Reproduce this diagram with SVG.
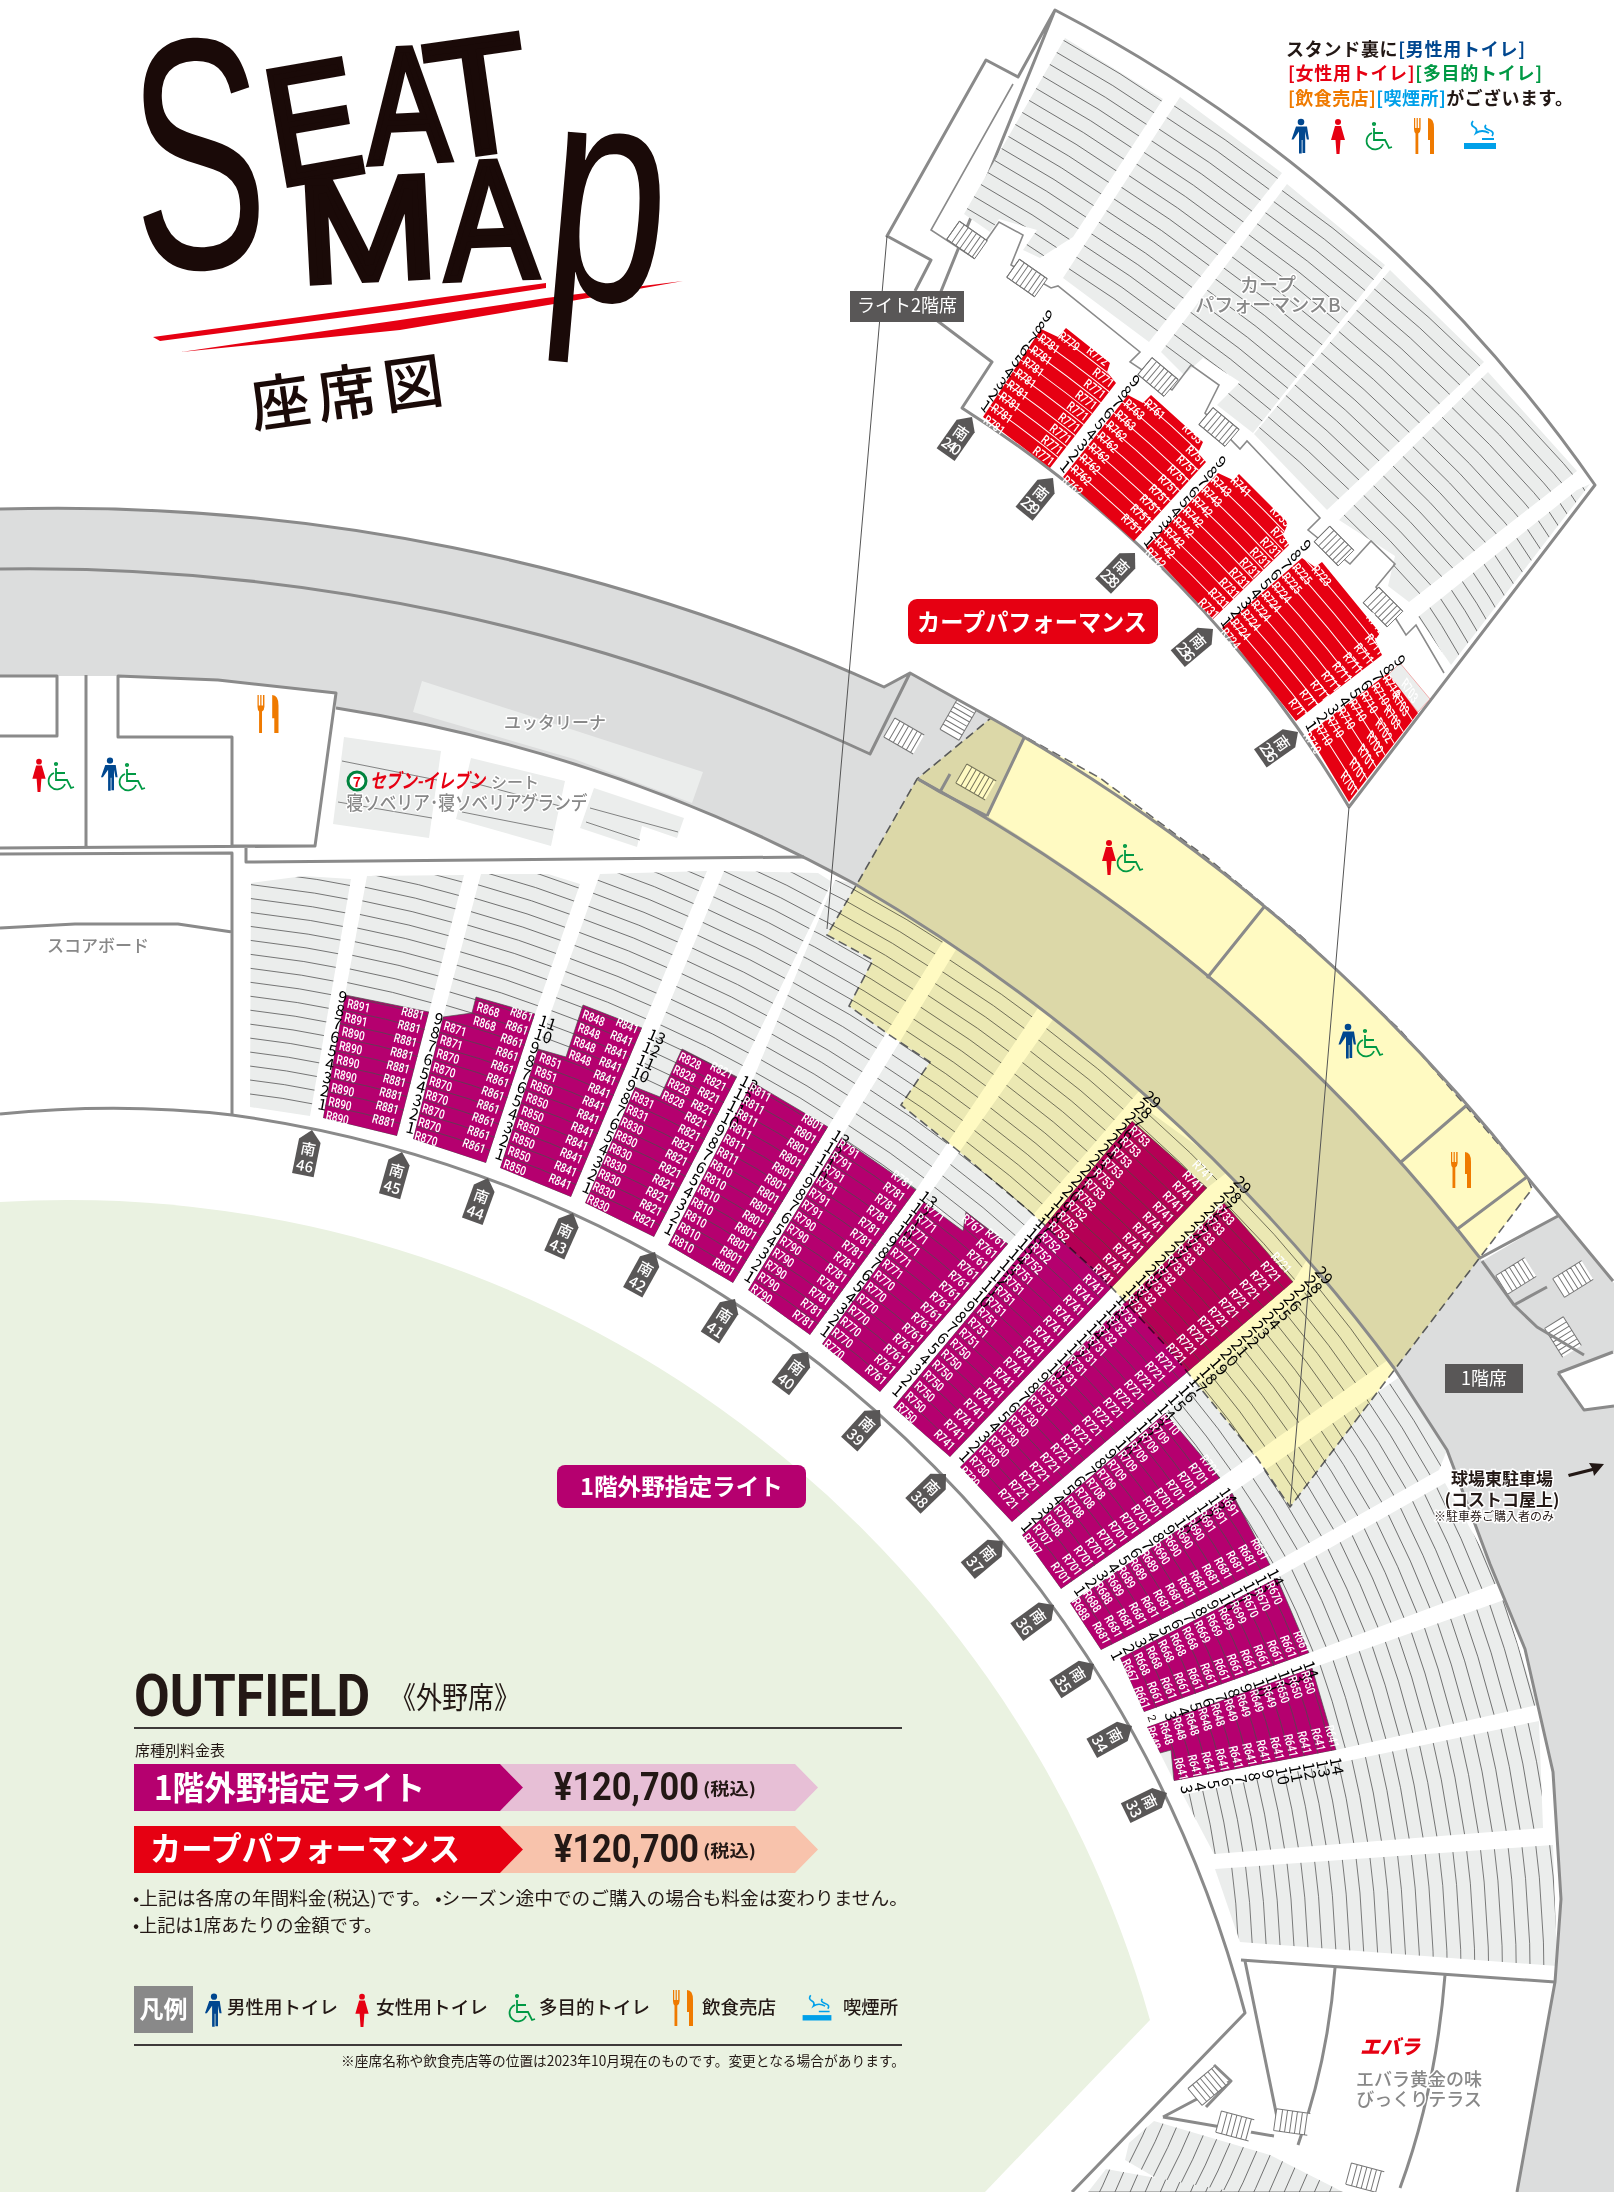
<svg xmlns="http://www.w3.org/2000/svg" width="1614" height="2192" viewBox="0 0 1614 2192">
<style>
text{font-family:"Noto Sans CJK JP","Noto Sans",sans-serif}
.w{fill:none;stroke:#8a8a8a;stroke-width:3;stroke-linejoin:round}
.t{fill:none;stroke:#8a8a8a;stroke-width:1.6}
.rw{fill:none;stroke:#4d4d4d;stroke-width:.7}
.rr{fill:none;stroke:#fff;stroke-width:1}
.m{fill:#b5006f}.r{fill:#e60012}
.N text{font:400 11.5px Roboto,sans-serif;fill:#231815;text-anchor:middle;dominant-baseline:central}
.L text,.E text{font:500 12.5px Roboto,sans-serif;fill:#fff;dominant-baseline:central}
.E text{text-anchor:end}
.tg text{font:500 15px "Noto Sans CJK JP",sans-serif;fill:#fff;text-anchor:middle}
.h{fill:#888;font-weight:500;paint-order:stroke;stroke:#fff;stroke-width:3;stroke-linejoin:round;text-anchor:middle}
.k{fill:#231815}
.ti{font-family:"Liberation Sans",sans-serif;font-weight:400;fill:#1a0a08;text-anchor:middle;stroke:#1a0a08}
</style>
<defs>
<rect id="bg" width="1614" height="2192" fill="#ebedec"/>
<path id="r" d="M-260 11.15q260-50 520 0m-520-13.85q260-50 520 0m-520-13.85q260-50 520 0m-520-13.85q260-50 520 0m-520-13.85q260-50 520 0m-520-13.85q260-50 520 0m-520-13.85q260-50 520 0m-520-13.85q260-50 520 0m-520-13.85q260-50 520 0m-520-13.85q260-50 520 0m-520-13.85q260-50 520 0m-520-13.85q260-50 520 0m-520-13.85q260-50 520 0m-520-13.85q260-50 520 0m-520-13.85q260-50 520 0m-520-13.85q260-50 520 0m-520-13.85q260-50 520 0m-520-13.85q260-50 520 0m-520-13.85q260-50 520 0m-520-13.85q260-50 520 0m-520-13.85q260-50 520 0m-520-13.85q260-50 520 0m-520-13.85q260-50 520 0m-520-13.85q260-50 520 0m-520-13.85q260-50 520 0m-520-13.85q260-50 520 0m-520-13.85q260-50 520 0m-520-13.85q260-50 520 0m-520-13.85q260-50 520 0m-520-13.85q260-50 520 0m-520-13.85q260-50 520 0m-520-13.85q260-50 520 0m-520-13.85q260-50 520 0m-520-13.85q260-50 520 0m-520-13.85q260-50 520 0m-520-13.85q260-50 520 0m-520-13.85q260-50 520 0m-520-13.85q260-50 520 0m-520-13.85q260-50 520 0m-520-13.85q260-50 520 0m-520-13.85q260-50 520 0m-520-13.85q260-50 520 0m-520-13.85q260-50 520 0m-520-13.85q260-50 520 0"/>
<g id="st"><rect x="-17" y="-11" width="34" height="22" fill="#fff"/><path d="M-17-11v22M-11-11v22M-6-11v22M-1-11v22M4-11v22M9-11v22M14-11v22M-17-11h34M-17 11h34" fill="none" stroke="#777" stroke-width="1"/></g>
<g id="man" fill="#00478f"><circle cy="-14" r="3.3"/><path d="M-5.5-9.5h11l2 13h-2.2l-1.6-8v21.5h-2.7V4h-.8v13.5h-2.7V-4.5L-8 3.5h-2z" transform="translate(.5 0)"/></g>
<g id="wom" fill="#e60012"><circle cy="-14" r="3"/><path d="M-3-10H3L7 4H2.5L1.5 18h-3L-2.5 4H-7z"/></g>
<g id="wc" fill="none" stroke="#009944" stroke-width="1.8"><circle cx="-6" cy="-14" r="1.2"/><path d="M-6-10V2H5l4 8 3-1M-6-5H3M-8-5a8.5 8.5 0 1 0 11 11"/></g>
<g id="food" fill="#ef7a00"><path d="M-10-18h1.2v10h1.4v-10h1.2v10h1.4v-10H-3.400v11q0 3-2.300 4.500V18H-8.500V-2.500q-1.500-1.500-1.500-4.500z"/><path d="M4-18q6 0 6 10V18H6V4H4z"/></g>
<g id="sm"><rect x="-16" y="9" width="32" height="6" fill="#00a0e9"/><path d="M-7-13q-3 4 1 6t2 6q6-4 13 0M6-9q-3 3 3 5t3 6M2 5H14" fill="none" stroke="#00a0e9" stroke-width="1.8"/></g>
<polygon id="tp" points="0,0 11,11 11,46 -11,46 -11,11" fill="#595757"/>
<g id="a"><text>1</text><text y="-14">2</text></g>
<g id="b"><text y="-28">3</text><text y="-42">4</text><text y="-56">5</text><text y="-70">6</text><text y="-84">7</text><text y="-98">8</text><text y="-112">9</text></g>
<g id="c"><text y="-126">10</text><text y="-140">11</text></g>
<g id="d"><text y="-154">12</text><text y="-168">13</text></g>
<g id="e"><text y="-182">14</text></g>
<g id="f"><text y="-196">15</text><text y="-210">16</text><text y="-224">17</text><text y="-238">18</text><text y="-252">19</text><text y="-266">20</text><text y="-280">21</text><text y="-294">22</text><text y="-308">23</text><text y="-322">24</text><text y="-336">25</text><text y="-350">26</text><text y="-364">27</text><text y="-378">28</text><text y="-392">29</text></g>
<g id="n9"><use href="#a"/><use href="#b"/></g>
<g id="n11"><use href="#n9"/><use href="#c"/></g>
<g id="n13"><use href="#n11"/><use href="#d"/></g>
<g id="n14"><use href="#n13"/><use href="#e"/></g>
<g id="n29"><use href="#n14"/><use href="#f"/></g>
<clipPath id="c0"><polygon points="251,883 304,876 351,879 310,1116 250,1107"/></clipPath>
<clipPath id="cA"><polygon points="367,876 464,875 429,1012 397,1136 323,1118 345,995"/></clipPath>
<clipPath id="cB"><polygon points="481,874 548,874 580,884 535,1014 486,1163 413,1139 443,1017"/></clipPath>
<clipPath id="cC"><polygon points="600,874 707,871 642,1028 571,1197 500,1168 538,1049"/></clipPath>
<clipPath id="cD"><polygon points="724,871 818,873 832,882 737,1077 654,1237 585,1203 635,1087"/></clipPath>
<clipPath id="cE"><polygon points="668,1245 752,1082 835,880 890,890 950,930 828,1127 733,1283"/></clipPath>
<clipPath id="cF"><polygon points="748,1290 841,1138 957,948 1000,960 1040,1005 916,1190 810,1335"/></clipPath>
<clipPath id="cG"><polygon points="822,1344 924,1202 1054,1018 1140,1090 1008,1244 880,1392"/></clipPath>
<clipPath id="cH"><polygon points="893,1407 1132,1121 1143,1107 1230,1170 1207,1188 950,1457"/></clipPath>
<clipPath id="cI"><polygon points="960,1467 1224,1203 1240,1183 1310,1255 1293,1282 1012,1522"/></clipPath>
<clipPath id="cJ"><polygon points="1022,1535 1165,1413 1325,1275 1395,1355 1220,1478 1061,1589"/></clipPath>
<clipPath id="cK"><polygon points="1070,1603 1232,1493 1398,1378 1447,1450 1439,1470 1270,1565 1101,1650"/></clipPath>
<clipPath id="cL"><polygon points="1120,1658 1277,1578 1445,1483 1500,1582 1309,1653 1144,1712"/></clipPath>
<clipPath id="cM"><polygon points="1147,1727 1312,1668 1504,1600 1537,1705 1336,1750 1174,1781"/></clipPath>
<clipPath id="cN"><polygon points="1183,1795 1539,1721 1543,1828 1214,1854"/></clipPath>
<clipPath id="cO"><polygon points="1215,1869 1553,1845 1557,1966 1240,1942"/></clipPath>
<clipPath id="cP"><polygon points="1154,2121 1270,2155 1343,2192 1180,2192 1125,2160 1129,2143"/></clipPath>
<clipPath id="cQ"><polygon points="1106,2169 1235,2192 1088,2192"/></clipPath>
<clipPath id="a2"><polygon points="1065,38 1163,99 1073,237 1040,258 1023,250 1037,230 999,219 990,232 964,214"/></clipPath>
<clipPath id="b2"><polygon points="1180,97 1282,173 1149,342 1063,278"/></clipPath>
<clipPath id="c2"><polygon points="1287,184 1385,265 1253,433 1217,405 1240,382 1203,358 1184,375 1161,352"/></clipPath>
<clipPath id="d2"><polygon points="1390,270 1484,362 1327,510 1254,434"/></clipPath>
<clipPath id="e2"><polygon points="1488,372 1577,471 1409,602 1388,586 1395,556 1339,520"/></clipPath>
<clipPath id="f2"><polygon points="1577,490 1590,484 1451,665 1418,617"/></clipPath>
<clipPath id="r1"><polygon points="1041,329 1058,337 1066,328 1110,363 1107,372 1116,383 1050,468 983,417"/></clipPath>
<clipPath id="r2"><polygon points="1128,395 1143,403 1151,395 1203,442 1198,453 1206,462 1134,541 1063,477"/></clipPath>
<clipPath id="r3"><polygon points="1218,473 1233,480 1239,474 1288,523 1283,535 1289,545 1213,619 1146,548"/></clipPath>
<clipPath id="r4"><polygon points="1302,558 1315,567 1322,562 1380,633 1375,640 1382,655 1296,721 1222,628"/></clipPath>
<clipPath id="r5"><polygon points="1388,673 1418,713 1349,802 1308,734"/></clipPath>
</defs>

<rect width="1614" height="2192" fill="#fff"/>
<path id="field" d="M0 1202A1124 1124 0 0 1 1150 2020L985 2192H0Z" fill="#eaf2e1"/>

<g id="upper-stand" class="rw">
<path d="M1055 10L1018 77 986 60 887 236 931 260 915 291M931 316L992 362 962 408A1200 1200 0 0 1 1349 807L1595 485A1500 1500 0 0 0 1055 10Z" class="w"/>
<g clip-path="url(#a2)"><use href="#bg"/><use href="#r" transform="translate(1010 250) rotate(32)"/></g>
<g clip-path="url(#b2)"><use href="#bg"/><use href="#r" transform="translate(1106 310) rotate(35)"/></g>
<g clip-path="url(#c2)"><use href="#bg"/><use href="#r" transform="translate(1205 392) rotate(38)"/></g>
<g clip-path="url(#d2)"><use href="#bg"/><use href="#r" transform="translate(1290 472) rotate(42)"/></g>
<g clip-path="url(#e2)"><use href="#bg"/><use href="#r" transform="translate(1370 560) rotate(46)"/></g>
<g clip-path="url(#f2)"><use href="#bg"/><use href="#r" transform="translate(1418 640) rotate(58)"/></g>
<path d="M1013 84L931 230 974 258 999 222 1023 235 1011 265 1051 288 1058 286 1140 352 1130 362 1172 390 1191 365 1219 385 1205 413 1240 449 1247 441 1320 518 1308 530 1350 564 1371 541 1395 564 1376 587 1406 635 1416 625 1444 673" class="t"/>
<use href="#st" transform="translate(967 240) rotate(35)"/><use href="#st" transform="translate(1027 278) rotate(35)"/><use href="#st" transform="translate(1158 377) rotate(40)"/><use href="#st" transform="translate(1219 427) rotate(40)"/><use href="#st" transform="translate(1334 546) rotate(45)"/><use href="#st" transform="translate(1383 607) rotate(45)"/>
<polygon points="1400,663 1430,699 1418,712 1388,675" fill="#ebedec" stroke="#e66" stroke-width=".5"/>
<g id="sec-r1" clip-path="url(#r1)"><rect class="r" width="1614" height="2192" style="stroke:none"/><use href="#r" class="rr" transform="translate(1016 442) rotate(37)"/></g>
<g id="sec-r2" clip-path="url(#r2)"><rect class="r" width="1614" height="2192" style="stroke:none"/><use href="#r" class="rr" transform="translate(1098 509) rotate(42)"/></g>
<g id="sec-r3" clip-path="url(#r3)"><rect class="r" width="1614" height="2192" style="stroke:none"/><use href="#r" class="rr" transform="translate(1180 583) rotate(45)"/></g>
<g id="sec-r4" clip-path="url(#r4)"><rect class="r" width="1614" height="2192" style="stroke:none"/><use href="#r" class="rr" transform="translate(1259 675) rotate(50)"/></g>
<g id="sec-r5" clip-path="url(#r5)"><rect class="r" width="1614" height="2192" style="stroke:none"/><use href="#r" class="rr" transform="translate(1328 768) rotate(58)"/></g>
</g>

<g id="lower-stand" class="rw">
<g clip-path="url(#c0)"><use href="#bg"/><use href="#r" transform="translate(280 1112) rotate(9)"/></g>
<g id="sec-A" clip-path="url(#cA)"><use href="#bg"/><polygon class="m" points="345,995 429,1012 397,1136 323,1118"/><use href="#r" transform="translate(360 1127) rotate(13.6)"/></g>
<g id="sec-B" clip-path="url(#cB)"><use href="#bg"/><polygon class="m" points="443,1017 472,1013 476,997 535,1014 486,1163 413,1139"/><use href="#r" transform="translate(450 1151) rotate(18)"/></g>
<g id="sec-C" clip-path="url(#cC)"><use href="#bg"/><polygon class="m" points="538,1049 566,1057 583,1005 642,1028 571,1197 500,1168"/><use href="#r" transform="translate(535 1182) rotate(22)"/></g>
<g id="sec-D" clip-path="url(#cD)"><use href="#bg"/><polygon class="m" points="635,1087 660,1097 682,1049 737,1077 654,1237 585,1203"/><use href="#r" transform="translate(620 1220) rotate(26.500)"/></g>
<g id="sec-E" clip-path="url(#cE)"><use href="#bg"/><polygon class="m" points="752,1082 828,1127 733,1283 668,1245"/><use href="#r" transform="translate(700 1264) rotate(31)"/></g>
<g id="sec-F" clip-path="url(#cF)"><use href="#bg"/><polygon class="m" points="841,1138 916,1190 810,1335 748,1290"/><use href="#r" transform="translate(779 1312) rotate(35)"/></g>
<g id="sec-G" clip-path="url(#cG)"><use href="#bg"/><polygon class="m" points="924,1202 963,1231 966,1212 1008,1244 880,1392 822,1344"/><use href="#r" transform="translate(851 1368) rotate(39.500)"/></g>
<g id="sec-H" clip-path="url(#cH)"><use href="#bg"/><polygon class="m" points="1132,1121 1207,1188 950,1457 893,1407"/><use href="#r" transform="translate(921 1432) rotate(44)"/></g>
<g id="sec-I" clip-path="url(#cI)"><use href="#bg"/><polygon class="m" points="1224,1203 1293,1282 1012,1522 960,1467"/><use href="#r" transform="translate(986 1494) rotate(48)"/></g>
<g id="sec-J" clip-path="url(#cJ)"><use href="#bg"/><polygon class="m" points="1165,1413 1220,1478 1061,1589 1022,1535"/><use href="#r" transform="translate(1041 1562) rotate(53)"/></g>
<g id="sec-K" clip-path="url(#cK)"><use href="#bg"/><polygon class="m" points="1232,1493 1270,1565 1101,1650 1070,1603"/><use href="#r" transform="translate(1085 1626) rotate(58)"/></g>
<g id="sec-L" clip-path="url(#cL)"><use href="#bg"/><polygon class="m" points="1277,1578 1309,1653 1144,1712 1120,1658"/><use href="#r" transform="translate(1132 1685) rotate(66)"/></g>
<g id="sec-M" clip-path="url(#cM)"><use href="#bg"/><polygon class="m" points="1312,1668 1336,1750 1174,1781 1171,1750 1160,1753 1147,1727"/><use href="#r" transform="translate(1160 1754) rotate(73)"/></g>
<g clip-path="url(#cN)"><use href="#bg"/><use href="#r" transform="translate(1183 1830) rotate(79)"/></g>
<g clip-path="url(#cO)"><use href="#bg"/><use href="#r" transform="translate(1222 1905) rotate(85)"/></g>
<g clip-path="url(#cP)"><use href="#bg"/><use href="#r" transform="translate(1130 2130) rotate(115)"/></g>
<g clip-path="url(#cQ)"><use href="#bg"/><use href="#r" transform="translate(1090 2180) rotate(115)"/></g>
</g>

<path id="concourse" d="M0 509A2000 2000 0 0 1 884 687L910 673 1025 738 987 816A1800 1800 0 0 1 1480 1258L1482 1261 1558 1216 1614 1283V1352L1558 1373 1584 1410 1614 1406V2192H1517L1555 1982 1561 1899 1553 1772 1525 1649 1490 1564 1447 1450 1394 1368A1800 1800 0 0 0 855 884A1600 1600 0 0 0 336 708L336 693 218 680 118 676H0Z" fill="#dcdddd"/>
<use href="#st" transform="translate(904 736) rotate(30)"/><use href="#st" transform="translate(958 720) rotate(-60)"/><use href="#st" transform="translate(976 782) rotate(30)"/><use href="#st" transform="translate(1516 1276) rotate(-32)"/><use href="#st" transform="translate(1573 1279) rotate(-32)"/><use href="#st" transform="translate(1563 1337) rotate(58)"/>

<polygon id="overlay" points="991,718 1100,778 1210,860 1300,935 1400,1030 1527,1177 1532,1189 1290,1507 1257,1458 1167,1347 1100,1275 1028,1210 956,1149 901,1105 930,1062 888,1034 849,1006 873,960 827,935 857,884 917,779" fill="#fffac2" stroke="#666" stroke-width="1.600" stroke-dasharray="9 5" style="mix-blend-mode:multiply"/>

<g id="plan-lines">
<path d="M0 509A2000 2000 0 0 1 884 687L910 673 991 718A1800 1800 0 0 1 1527 1177L1613 1281M0 569A2000 2000 0 0 1 870 754L910 673M918 779A1800 1800 0 0 1 1480 1258L1558 1216M336 708A1600 1600 0 0 1 855 884A1800 1800 0 0 1 1394 1368L1447 1450 1490 1564 1525 1649 1553 1772 1561 1899 1555 1982 1517 2192M0 1114Q120 1102 232 1115A1218 1218 0 0 1 1245 2013L1072 2192" class="w"/>
<path d="M1024 738L987 816M1264 907L1207 978M1467 1105L1401 1162M1527 1177L1456 1230M918 779L940 792 987 816M950 774L940 792M1514 1305L1482 1261M1514 1305L1547 1287M1514 1305L1537 1327 1584 1355M1558 1373L1613 1352M1558 1373L1584 1410 1614 1406" class="w" stroke-width="2"/>
<path d="M0 676H57V736H0M86 675V847M118 676L218 680 336 693 315 846H232V737H118ZM0 848L315 846M0 854L232 853V1115M246 848V862L804 857M0 928L75 924H178L232 932" class="w"/>
<path d="M1241 1960L1555 1982M1245 1961L1278 2122M1335 1968Q1328 2060 1298 2145M1445 1975Q1436 2090 1400 2188M1163 2117L1231 2081M1163 2117L1274 2136M1206 2107L1231 2081 1214 2065" class="w" stroke-width="2.500"/>
<use href="#st" transform="translate(1292 2122) rotate(8)"/><use href="#st" transform="translate(1208 2086) rotate(-40)"/><use href="#st" transform="translate(1235 2126) rotate(15)"/><use href="#st" transform="translate(1365 2178) rotate(15)"/>
</g>

<g id="connectors" fill="none" stroke="#555" stroke-width="1"><path d="M887 236L827 929"/><path d="M1349 807L1290 1507"/></g>

<g id="patches" fill="#ebedec">
<polygon points="422,681 703,772 692,803 574,759 413,712"/>
<polygon points="344,737 441,751 429,838 333,824"/><polygon points="471,758 565,781 551,846 456,819"/><polygon points="594,788 684,818 677,838 642,826 637,847 580,828"/>
<path d="M342 761L437 780M338 802L432 818M470 782L560 806M462 812L553 830M590 808L678 832M586 822L640 840" stroke="#555" stroke-width=".7" fill="none"/>
</g>

<g id="seat-numbers" class="N">
<use href="#n9" transform="matrix(.98 .2 -.18 .96 317 1109)"/>
<use href="#n9" transform="matrix(.96 .27 -.25 .97 405 1132)"/>
<use href="#n11" transform="matrix(.94 .34 -.31 .95 494 1158)"/>
<use href="#n13" transform="matrix(.91 .41 -.39 .91 581 1191)"/>
<use href="#n13" transform="matrix(.88 .48 -.45 .88 663 1232)"/>
<use href="#n13" transform="matrix(.84 .54 -.52 .84 743 1279)"/>
<use href="#n13" transform="matrix(.8 .6 -.59 .8 819 1333)"/>
<use href="#n29" transform="matrix(.75 .66 -.64 .75 891 1392)"/>
<use href="#n29" transform="matrix(.69 .72 -.7 .7 958 1457)"/>
<use href="#n29" transform="matrix(.64 .77 -.75 .65 1020 1527)"/>
<use href="#n14" transform="matrix(.57 .82 -.8 .54 1073 1590)"/>
<use href="#n14" transform="matrix(.47 .88 -.86 .45 1110 1654)"/>
<g transform="matrix(.34 .94 -.9 .33 1139 1723)"><text y="-14">2</text><use href="#b"/><use href="#c"/><use href="#d"/><use href="#e"/></g>
<g transform="matrix(.19 .98 -.97 .18 1153 1791)"><use href="#b"/><use href="#c"/><use href="#d"/><use href="#e"/></g>
<use href="#n9" transform="matrix(.64 .77 -.55 .8 980 407)"/>
<use href="#n9" transform="matrix(.62 .79 -.62 .76 1059 467)"/>
<use href="#n9" transform="matrix(.57 .82 -.64 .71 1143 542)"/>
<use href="#n9" transform="matrix(.5 .87 -.71 .68 1220 622)"/>
<use href="#n9" transform="matrix(.42 .91 -.79 .58 1305 725)"/>
</g>

<g id="seat-labels">
<g class="L" transform="matrix(.78 .19 -.19 1 326 1115)"><text>R890</text><text y="-14">R890</text><text y="-28">R890</text><text y="-42">R890</text><text y="-56">R890</text><text y="-70">R890</text><text y="-84">R890</text><text y="-98">R891</text><text y="-112">R891</text></g>
<g class="E" transform="matrix(.78 .19 -.26 .96 395 1124)"><text>R881</text><text y="-14">R881</text><text y="-28">R881</text><text y="-42">R881</text><text y="-56">R881</text><text y="-70">R881</text><text y="-84">R881</text><text y="-98">R881</text><text y="-112">R881</text></g>
<g class="L" transform="matrix(.76 .25 -.26 .98 415 1135)"><text>R870</text><text y="-14">R870</text><text y="-28">R870</text><text y="-42">R870</text><text y="-56">R870</text><text y="-70">R870</text><text y="-84">R870</text><text y="-98">R871</text><text y="-112">R871</text><text x="34" y="-126">R868</text><text x="34" y="-140">R868</text></g>
<g class="E" transform="matrix(.76 .25 -.34 .94 485 1150)"><text>R861</text><text y="-14">R861</text><text y="-28">R861</text><text y="-42">R861</text><text y="-56">R861</text><text y="-70">R861</text><text y="-84">R861</text><text y="-98">R861</text><text y="-112">R861</text><text y="-126">R861</text><text y="-140">R861</text></g>
<g class="L" transform="matrix(.74 .3 -.32 .95 504 1163)"><text>R850</text><text y="-14">R850</text><text y="-28">R850</text><text y="-42">R850</text><text y="-56">R850</text><text y="-70">R850</text><text y="-84">R850</text><text y="-98">R851</text><text y="-112">R851</text><text x="34" y="-126">R848</text><text x="34" y="-140">R848</text><text x="34" y="-154">R848</text><text x="34" y="-168">R848</text></g>
<g class="E" transform="matrix(.74 .3 -.4 .93 571 1186)"><text>R841</text><text y="-14">R841</text><text y="-28">R841</text><text y="-42">R841</text><text y="-56">R841</text><text y="-70">R841</text><text y="-84">R841</text><text y="-98">R841</text><text y="-112">R841</text><text y="-126">R841</text><text y="-140">R841</text><text y="-154">R841</text><text y="-168">R841</text></g>
<g class="L" transform="matrix(.72 .36 -.4 .92 588 1198)"><text>R830</text><text y="-14">R830</text><text y="-28">R830</text><text y="-42">R830</text><text y="-56">R830</text><text y="-70">R830</text><text y="-84">R830</text><text y="-98">R831</text><text y="-112">R831</text><text x="34" y="-126">R828</text><text x="34" y="-140">R828</text><text x="34" y="-154">R828</text><text x="34" y="-168">R828</text></g>
<g class="E" transform="matrix(.72 .36 -.46 .89 655 1225)"><text>R821</text><text y="-14">R821</text><text y="-28">R821</text><text y="-42">R821</text><text y="-56">R821</text><text y="-70">R821</text><text y="-84">R821</text><text y="-98">R821</text><text y="-112">R821</text><text y="-126">R821</text><text y="-140">R821</text><text y="-154">R821</text><text y="-168">R821</text></g>
<g class="L" transform="matrix(.69 .41 -.46 .9 673 1238)"><text>R810</text><text y="-14">R810</text><text y="-28">R810</text><text y="-42">R810</text><text y="-56">R810</text><text y="-70">R810</text><text y="-84">R810</text><text y="-98">R811</text><text y="-112">R811</text><text y="-126">R811</text><text y="-140">R811</text><text y="-154">R811</text><text y="-168">R811</text></g>
<g class="E" transform="matrix(.69 .41 -.53 .86 734 1273)"><text>R801</text><text y="-14">R801</text><text y="-28">R801</text><text y="-42">R801</text><text y="-56">R801</text><text y="-70">R801</text><text y="-84">R801</text><text y="-98">R801</text><text y="-112">R801</text><text y="-126">R801</text><text y="-140">R801</text><text y="-154">R801</text><text y="-168">R801</text></g>
<g class="L" transform="matrix(.66 .46 -.52 .86 752 1287)"><text>R790</text><text y="-14">R790</text><text y="-28">R790</text><text y="-42">R790</text><text y="-56">R790</text><text y="-70">R790</text><text y="-84">R790</text><text y="-98">R791</text><text y="-112">R791</text><text y="-126">R791</text><text y="-140">R791</text><text y="-154">R791</text><text y="-168">R791</text></g>
<g class="E" transform="matrix(.66 .46 -.59 .83 813 1326)"><text>R781</text><text y="-14">R781</text><text y="-28">R781</text><text y="-42">R781</text><text y="-56">R781</text><text y="-70">R781</text><text y="-84">R781</text><text y="-98">R781</text><text y="-112">R781</text><text y="-126">R781</text><text y="-140">R781</text><text y="-154">R781</text><text y="-168">R781</text></g>
<g class="L" transform="matrix(.62 .51 -.6 .82 825 1342)"><text>R770</text><text y="-14">R770</text><text y="-28">R770</text><text y="-42">R770</text><text y="-56">R770</text><text y="-70">R770</text><text y="-84">R770</text><text y="-98">R771</text><text y="-112">R771</text><text y="-126">R771</text><text y="-140">R771</text><text y="-154">R771</text><text y="-168">R771</text><text x="47" y="-182">R767</text></g>
<g class="E" transform="matrix(.62 .51 -.66 .75 885 1382)"><text>R761</text><text y="-14">R761</text><text y="-28">R761</text><text y="-42">R761</text><text y="-56">R761</text><text y="-70">R761</text><text y="-84">R761</text><text y="-98">R761</text><text y="-112">R761</text><text y="-126">R761</text><text y="-140">R761</text><text y="-154">R761</text><text y="-168">R761</text><text y="-182">R761</text></g>
<g class="L" transform="matrix(.58 .56 -.64 .76 898 1405)"><text>R750</text><text y="-14">R750</text><text y="-28">R750</text><text y="-42">R750</text><text y="-56">R750</text><text y="-70">R750</text><text y="-84">R750</text><text y="-98">R751</text><text y="-112">R751</text><text y="-126">R751</text><text y="-140">R751</text><text y="-154">R751</text><text y="-168">R751</text><text y="-182">R751</text><text y="-196">R752</text><text y="-210">R752</text><text y="-224">R752</text><text y="-238">R752</text><text y="-252">R752</text><text y="-266">R752</text><text y="-280">R752</text><text y="-294">R753</text><text y="-308">R753</text><text y="-322">R753</text><text y="-336">R753</text><text y="-350">R753</text><text y="-364">R753</text></g>
<g class="E" transform="matrix(.58 .56 -.71 .74 953 1448)"><text>R741</text><text y="-14">R741</text><text y="-28">R741</text><text y="-42">R741</text><text y="-56">R741</text><text y="-70">R741</text><text y="-84">R741</text><text y="-98">R741</text><text y="-112">R741</text><text y="-126">R741</text><text y="-140">R741</text><text y="-154">R741</text><text y="-168">R741</text><text y="-182">R741</text><text y="-196">R741</text><text y="-210">R741</text><text y="-224">R741</text><text y="-238">R741</text><text y="-252">R741</text><text y="-266">R741</text><text y="-280">R741</text><text y="-294">R741</text><text y="-308">R741</text><text y="-322">R741</text><text y="-336">R741</text><text y="-350">R741</text><text y="-364">R741</text></g>
<g class="L" transform="matrix(.54 .59 -.7 .72 962 1468)"><text>R730</text><text y="-14">R730</text><text y="-28">R730</text><text y="-42">R730</text><text y="-56">R730</text><text y="-70">R730</text><text y="-84">R730</text><text y="-98">R731</text><text y="-112">R731</text><text y="-126">R731</text><text y="-140">R731</text><text y="-154">R731</text><text y="-168">R731</text><text y="-182">R731</text><text y="-196">R732</text><text y="-210">R732</text><text y="-224">R732</text><text y="-238">R732</text><text y="-252">R732</text><text y="-266">R732</text><text y="-280">R732</text><text y="-294">R733</text><text y="-308">R733</text><text y="-322">R733</text><text y="-336">R733</text><text y="-350">R733</text><text y="-364">R733</text></g>
<g class="E" transform="matrix(.54 .59 -.75 .65 1016 1508)"><text>R721</text><text y="-14">R721</text><text y="-28">R721</text><text y="-42">R721</text><text y="-56">R721</text><text y="-70">R721</text><text y="-84">R721</text><text y="-98">R721</text><text y="-112">R721</text><text y="-126">R721</text><text y="-140">R721</text><text y="-154">R721</text><text y="-168">R721</text><text y="-182">R721</text><text y="-196">R721</text><text y="-210">R721</text><text y="-224">R721</text><text y="-238">R721</text><text y="-252">R721</text><text y="-266">R721</text><text y="-280">R721</text><text y="-294">R721</text><text y="-308">R721</text><text y="-322">R721</text><text y="-336">R721</text><text y="-350">R721</text><text y="-364">R721</text></g>
<g class="L" transform="matrix(.49 .63 -.76 .66 1025 1535)"><text>R707</text><text y="-14">R707</text><text y="-28">R708</text><text y="-42">R708</text><text y="-56">R708</text><text y="-70">R708</text><text y="-84">R708</text><text y="-98">R709</text><text y="-112">R709</text><text y="-126">R709</text><text y="-140">R709</text><text y="-154">R709</text><text y="-168">R709</text><text y="-182">R710</text></g>
<g class="E" transform="matrix(.49 .63 -.82 .59 1068 1582)"><text>R701</text><text y="-14">R701</text><text y="-28">R701</text><text y="-42">R701</text><text y="-56">R701</text><text y="-70">R701</text><text y="-84">R701</text><text y="-98">R701</text><text y="-112">R701</text><text y="-126">R701</text><text y="-140">R701</text><text y="-154">R701</text><text y="-168">R701</text><text y="-182">R701</text></g>
<g class="L" transform="matrix(.41 .69 -.82 .57 1075 1599)"><text>R688</text><text y="-14">R688</text><text y="-28">R688</text><text y="-42">R689</text><text y="-56">R689</text><text y="-70">R689</text><text y="-84">R689</text><text y="-98">R690</text><text y="-112">R690</text><text y="-126">R690</text><text y="-140">R690</text><text y="-154">R691</text><text y="-168">R691</text><text y="-182">R691</text></g>
<g class="E" transform="matrix(.41 .69 -.87 .46 1107 1643)"><text>R681</text><text y="-14">R681</text><text y="-28">R681</text><text y="-42">R681</text><text y="-56">R681</text><text y="-70">R681</text><text y="-84">R681</text><text y="-98">R681</text><text y="-112">R681</text><text y="-126">R681</text><text y="-140">R681</text><text y="-154">R681</text><text y="-168">R681</text><text y="-182">R681</text></g>
<g class="L" transform="matrix(.33 .73 -.86 .46 1125 1660)"><text>R667</text><text y="-14">R668</text><text y="-28">R668</text><text y="-42">R668</text><text y="-56">R668</text><text y="-70">R668</text><text y="-84">R669</text><text y="-98">R669</text><text y="-112">R699</text><text y="-126">R699</text><text y="-140">R670</text><text y="-154">R670</text><text y="-168">R670</text></g>
<g class="E" transform="matrix(.33 .73 -.95 .33 1147 1708)"><text>R661</text><text y="-14">R661</text><text y="-28">R661</text><text y="-42">R661</text><text y="-56">R661</text><text y="-70">R661</text><text y="-84">R661</text><text y="-98">R661</text><text y="-112">R661</text><text y="-126">R661</text><text y="-140">R661</text><text y="-154">R661</text><text y="-168">R661</text></g>
<g class="L" transform="matrix(.23 .76 -.92 .33 1150 1727)"><text>R648</text><text y="-14">R648</text><text y="-28">R648</text><text y="-42">R648</text><text y="-56">R648</text><text y="-70">R648</text><text y="-84">R649</text><text y="-98">R649</text><text y="-112">R649</text><text y="-126">R649</text><text y="-140">R650</text><text y="-154">R650</text><text y="-168">R650</text></g>
<g class="E" transform="matrix(.23 .76 -.98 .21 1184 1780)"><text>R641</text><text y="-14">R641</text><text y="-28">R641</text><text y="-42">R641</text><text y="-56">R641</text><text y="-70">R641</text><text y="-84">R641</text><text y="-98">R641</text><text y="-112">R641</text><text y="-126">R641</text><text y="-140">R641</text><text y="-154">R641</text></g>
<g class="L" transform="matrix(.64 .48 -.56 .83 985 418)"><text>R781</text><text y="-14">R781</text><text y="-28">R781</text><text y="-42">R781</text><text y="-56">R781</text><text y="-70">R781</text><text y="-84">R781</text><text y="-98">R781</text><text x="19" y="-112">R779</text></g>
<g class="E" transform="matrix(.64 .48 -.61 .8 1053 463)"><text>R771</text><text y="-14">R771</text><text y="-28">R771</text><text y="-42">R771</text><text y="-56">R771</text><text y="-70">R771</text><text y="-84">R771</text><text y="-98">R771</text><text x="-22" y="-112">R772</text></g>
<g class="L" transform="matrix(.59 .54 -.63 .78 1064 478)"><text>R762</text><text y="-14">R762</text><text y="-28">R762</text><text y="-42">R762</text><text y="-56">R762</text><text y="-70">R762</text><text y="-84">R763</text><text y="-98">R763</text><text x="20" y="-112">R761</text></g>
<g class="E" transform="matrix(.59 .54 -.66 .7 1140 532)"><text>R751</text><text y="-14">R751</text><text y="-28">R751</text><text y="-42">R751</text><text y="-56">R751</text><text y="-70">R751</text><text y="-84">R751</text><text y="-98">R751</text><text x="-22" y="-112">R753</text></g>
<g class="L" transform="matrix(.57 .57 -.67 .73 1147 550)"><text>R742</text><text y="-14">R742</text><text y="-28">R742</text><text y="-42">R742</text><text y="-56">R742</text><text y="-70">R742</text><text y="-84">R743</text><text y="-98">R743</text><text x="18" y="-112">R741</text></g>
<g class="E" transform="matrix(.57 .57 -.74 .73 1217 617)"><text>R731</text><text y="-14">R731</text><text y="-28">R731</text><text y="-42">R731</text><text y="-56">R731</text><text y="-70">R731</text><text y="-84">R731</text><text y="-98">R731</text><text x="-19" y="-112">R733</text></g>
<g class="L" transform="matrix(.51 .61 -.73 .66 1223 630)"><text>R724</text><text y="-14">R724</text><text y="-28">R724</text><text y="-42">R724</text><text y="-56">R724</text><text y="-70">R724</text><text y="-84">R725</text><text y="-98">R725</text><text x="18" y="-112">R723</text></g>
<g class="E" transform="matrix(.51 .61 -.78 .66 1306 718)"><text>R711</text><text y="-14">R711</text><text y="-28">R711</text><text y="-42">R711</text><text y="-56">R711</text><text y="-70">R711</text><text y="-84">R711</text><text y="-98">R711</text><text x="-19" y="-112">R712</text></g>
<g class="L" transform="matrix(.42 .68 -.81 .58 1306 733)"><text>R710</text><text y="-14">R710</text><text y="-28">R710</text><text y="-42">R710</text><text y="-56">R710</text><text y="-70">R710</text><text y="-84">R710</text><text y="-98">R710</text></g>
<g class="E" transform="matrix(.42 .68 -.62 .94 1355 793)"><text>R701</text><text y="-14">R701</text><text y="-28">R701</text><text y="-42">R702</text><text y="-56">R702</text><text y="-70">R703</text><text y="-84">R703</text><text y="-98">R703</text></g>
</g>

<g id="gate-tags" class="tg">
<g id="s46" transform="translate(312 1130) rotate(11.5)"><use href="#tp"/><text y="25">南</text><text y="42">46</text></g>
<g id="s45" transform="translate(402 1152) rotate(15.700)"><use href="#tp"/><text y="25">南</text><text y="42">45</text></g>
<g id="s44" transform="translate(488 1178) rotate(20)"><use href="#tp"/><text y="25">南</text><text y="42">44</text></g>
<g id="s43" transform="translate(573 1213) rotate(24)"><use href="#tp"/><text y="25">南</text><text y="42">43</text></g>
<g id="s42" transform="translate(655 1252) rotate(29)"><use href="#tp"/><text y="25">南</text><text y="42">42</text></g>
<g id="s41" transform="translate(735 1299) rotate(33)"><use href="#tp"/><text y="25">南</text><text y="42">41</text></g>
<g id="s40" transform="translate(808 1352) rotate(37)"><use href="#tp"/><text y="25">南</text><text y="42">40</text></g>
<g id="s39" transform="translate(880 1410) rotate(42)"><use href="#tp"/><text y="25">南</text><text y="42">39</text></g>
<g id="s38" transform="translate(946 1474) rotate(46)"><use href="#tp"/><text y="25">南</text><text y="42">38</text></g>
<g id="s37" transform="translate(1003 1541) rotate(50)"><use href="#tp"/><text y="25">南</text><text y="42">37</text></g>
<g id="s36" transform="translate(1054 1605) rotate(54)"><use href="#tp"/><text y="25">南</text><text y="42">36</text></g>
<g id="s35" transform="translate(1094 1664) rotate(57)"><use href="#tp"/><text y="25">南</text><text y="42">35</text></g>
<g id="s34" transform="translate(1132 1726) rotate(61)"><use href="#tp"/><text y="25">南</text><text y="42">34</text></g>
<g id="s33" transform="translate(1167 1793) rotate(64)"><use href="#tp"/><text y="25">南</text><text y="42">33</text></g>
<g id="s240" transform="translate(972 417) rotate(35)"><use href="#tp"/><text y="25">南</text><text y="41" textLength="20">240</text></g>
<g id="s239" transform="translate(1053 478) rotate(39)"><use href="#tp"/><text y="25">南</text><text y="41" textLength="20">239</text></g>
<g id="s238" transform="translate(1135 553) rotate(44)"><use href="#tp"/><text y="25">南</text><text y="41" textLength="20">238</text></g>
<g id="s236a" transform="translate(1213 629) rotate(50)"><use href="#tp"/><text y="25">南</text><text y="41" textLength="20">236</text></g>
<g id="s236b" transform="translate(1298 732) rotate(55)"><use href="#tp"/><text y="25">南</text><text y="41" textLength="20">236</text></g>
</g>

<g id="title">
<polygon points="153,337 300,317 546,283 546,288 400,310 160,341" fill="#e60012"/>
<polygon points="181,352 400,320 546,298 683,281 560,303 400,330" fill="#e60012"/>
<text class="ti" font-size="330" stroke-width="0" transform="translate(204 268) rotate(-3) scale(.61 1)">S</text>
<text class="ti" font-size="165" stroke-width="7" transform="translate(323 178) rotate(-10) scale(.83 1)">E</text>
<text class="ti" font-size="163" stroke-width="7" transform="translate(410 161) rotate(-3) scale(.75 1)">A</text>
<text class="ti" font-size="163" stroke-width="7" transform="translate(486 152) rotate(-8)">T</text>
<text class="ti" font-size="145" stroke-width="7" transform="translate(370 279) rotate(-3) scale(1.16 1)">M</text>
<text class="ti" font-size="168" stroke-width="7" transform="translate(492 278) rotate(-2) scale(.82 1)">A</text>
<text class="ti" font-size="312" stroke-width="0" transform="translate(600 300) rotate(5) scale(.7 1)">p</text>
<text transform="translate(353 414) rotate(-8)" font-size="60" font-weight="500" letter-spacing="7" text-anchor="middle" fill="#1a0a08">座席図</text>
</g>

<g id="notice" font-size="18" font-weight="700">
<text x="1286" y="56" class="k" textLength="239" lengthAdjust="spacing">スタンド裏に<tspan fill="#00478f">[男性用トイレ]</tspan></text>
<text x="1288" y="80" textLength="254" lengthAdjust="spacing"><tspan fill="#e60012">[女性用トイレ]</tspan><tspan fill="#009944">[多目的トイレ]</tspan></text>
<text x="1288" y="105" textLength="285" lengthAdjust="spacing"><tspan fill="#ef7a00">[飲食売店]</tspan><tspan fill="#00a0e9">[喫煙所]</tspan><tspan fill="#231815">がございます。</tspan></text>
<use href="#man" transform="translate(1301 136)"/><use href="#wom" transform="translate(1338 136)"/><use href="#wc" transform="translate(1380 138)"/><use href="#food" transform="translate(1424 136)"/><use href="#sm" transform="translate(1480 134)"/>
</g>

<g id="labels">
<g id="l-u"><rect x="850" y="291" width="114" height="31" fill="#595757"/><text x="907" y="312" font-size="18" fill="#fff" text-anchor="middle">ライト2階席</text></g>
<g id="l-c"><rect x="908" y="599" width="250" height="45" rx="9" fill="#e60012"/><text x="917" y="631" font-size="24" font-weight="700" fill="#fff" textLength="230" lengthAdjust="spacingAndGlyphs">カープパフォーマンス</text></g>
<g id="l-o"><rect x="557" y="1465" width="249" height="43" rx="8" fill="#b5006f"/><text x="580" y="1495" font-size="23" font-weight="700" fill="#fff" textLength="203" lengthAdjust="spacingAndGlyphs">1階外野指定ライト</text></g>
<g id="l-1"><rect x="1445" y="1364" width="78" height="29" fill="#595757"/><text x="1484" y="1385" font-size="18" fill="#fff" text-anchor="middle">1階席</text></g>
<text class="h" x="1268" y="292" font-size="19">カープ</text><text class="h" x="1268" y="312" font-size="19">パフォーマンスB</text>
<text class="h" x="555" y="729" font-size="17">ユッタリーナ</text>
<text class="h" x="98" y="952" font-size="17">スコアボード</text>
<circle cx="357" cy="781" r="9" fill="#fff" stroke="#00833e" stroke-width="3"/><text x="357" y="787" font-size="14" font-weight="700" fill="#e60012" text-anchor="middle">7</text>
<text x="370" y="788" font-size="20" font-weight="700" font-style="italic" fill="#e60012" textLength="115" lengthAdjust="spacingAndGlyphs">セブン-イレブン</text>
<text class="h" x="515" y="788" font-size="16">シート</text>
<text class="h" x="467" y="810" font-size="19" textLength="241" lengthAdjust="spacingAndGlyphs">寝ソベリア･寝ソベリアグランデ</text>
<g id="p-txt" font-weight="700" fill="#231815" stroke="#fff" stroke-width="3" paint-order="stroke" text-anchor="middle"><text x="1502" y="1485" font-size="17">球場東駐車場</text><text x="1502" y="1506" font-size="17">(コストコ屋上)</text><text x="1494" y="1521" font-size="12" font-weight="400">※駐車券ご購入者のみ</text></g>
<path d="M1568 1474L1592 1468 1589 1463 1604 1464 1594 1476 1593 1471 1569 1477Z" fill="#231815"/>
<text x="1390" y="2054" font-size="20" font-weight="900" fill="#e60012" text-anchor="middle" font-style="italic">エバラ</text>
<text class="h" x="1419" y="2086" font-size="18">エバラ黄金の味</text><text class="h" x="1419" y="2106" font-size="18">びっくりテラス</text>
<use href="#wom" transform="translate(39 775) scale(.95)"/><use href="#wc" transform="translate(62 778)"/><use href="#man" transform="translate(110 774) scale(.95)"/><use href="#wc" transform="translate(133 779)"/><use href="#food" transform="translate(268 714) scale(1.05)"/>
<use href="#wom" transform="translate(1109 857)"/><use href="#wc" transform="translate(1131 860)"/><use href="#man" transform="translate(1348 1041)"/><use href="#wc" transform="translate(1371 1045)"/><use href="#food" transform="translate(1461 1170)"/>
</g>

<g id="outfield-panel">
<text x="134" y="1716" font-size="60" font-weight="700" fill="#231815" textLength="236" lengthAdjust="spacingAndGlyphs" style="font-family:Roboto,sans-serif">OUTFIELD</text>
<text x="390" y="1708" font-size="30" fill="#231815" textLength="130" lengthAdjust="spacingAndGlyphs">《外野席》</text>
<path d="M134 1728H902M134 2045H902" stroke="#3e3a39" stroke-width="2"/>
<text x="135" y="1756" font-size="15" fill="#231815">席種別料金表</text>
<polygon points="480,1764 795,1764 818,1787.500 795,1811 500,1811 523,1787.500 500,1764" fill="#e7bfd6"/><polygon points="134,1764 500,1764 523,1787.500 500,1811 134,1811" fill="#b5006f"/>
<polygon points="480,1826 795,1826 818,1849.500 795,1873 500,1873 523,1849.500 500,1826" fill="#f8c3ac"/><polygon points="134,1826 500,1826 523,1849.500 500,1873 134,1873" fill="#e60012"/>
<text x="154" y="1800" font-size="33" font-weight="700" fill="#fff" textLength="271" lengthAdjust="spacingAndGlyphs">1階外野指定ライト</text>
<text x="150" y="1861" font-size="33" font-weight="700" fill="#fff" textLength="310" lengthAdjust="spacingAndGlyphs">カープパフォーマンス</text>
<g fill="#231815"><text x="554" y="1800" font-size="38" font-weight="700" textLength="145" lengthAdjust="spacingAndGlyphs" style="font-family:Roboto,sans-serif">¥120,700</text><text x="703" y="1795" font-size="17" font-weight="700" textLength="53" lengthAdjust="spacingAndGlyphs">(税込)</text><text x="554" y="1862" font-size="38" font-weight="700" textLength="145" lengthAdjust="spacingAndGlyphs" style="font-family:Roboto,sans-serif">¥120,700</text><text x="703" y="1857" font-size="17" font-weight="700" textLength="53" lengthAdjust="spacingAndGlyphs">(税込)</text>
<text x="133" y="1905" font-size="18" textLength="775" lengthAdjust="spacingAndGlyphs">•上記は各席の年間料金(税込)です。 •シーズン途中でのご購入の場合も料金は変わりません。</text>
<text x="133" y="1932" font-size="18" textLength="249" lengthAdjust="spacingAndGlyphs">•上記は1席あたりの金額です。</text>
<text x="341" y="2066" font-size="14" textLength="564" lengthAdjust="spacingAndGlyphs">※座席名称や飲食売店等の位置は2023年10月現在のものです。変更となる場合があります。</text></g>
<rect x="134" y="1986" width="59" height="47" fill="#898989"/><text x="163.500" y="2018" font-size="24" font-weight="700" fill="#fff" text-anchor="middle">凡例</text>
<use href="#man" transform="translate(214 2010) scale(.95)"/><use href="#wom" transform="translate(362 2010) scale(.95)"/><use href="#wc" transform="translate(523 2010)"/><use href="#food" transform="translate(683 2008)"/><use href="#sm" transform="translate(817 2007) scale(.9)"/>
<g font-size="18" fill="#231815" font-weight="500"><text x="227" y="2014" textLength="111" lengthAdjust="spacingAndGlyphs">男性用トイレ</text><text x="376" y="2014" textLength="112" lengthAdjust="spacingAndGlyphs">女性用トイレ</text><text x="539" y="2014" textLength="111" lengthAdjust="spacingAndGlyphs">多目的トイレ</text><text x="702" y="2014" textLength="74" lengthAdjust="spacingAndGlyphs">飲食売店</text><text x="843" y="2014" textLength="55" lengthAdjust="spacingAndGlyphs">喫煙所</text></g>
</g>
</svg>
